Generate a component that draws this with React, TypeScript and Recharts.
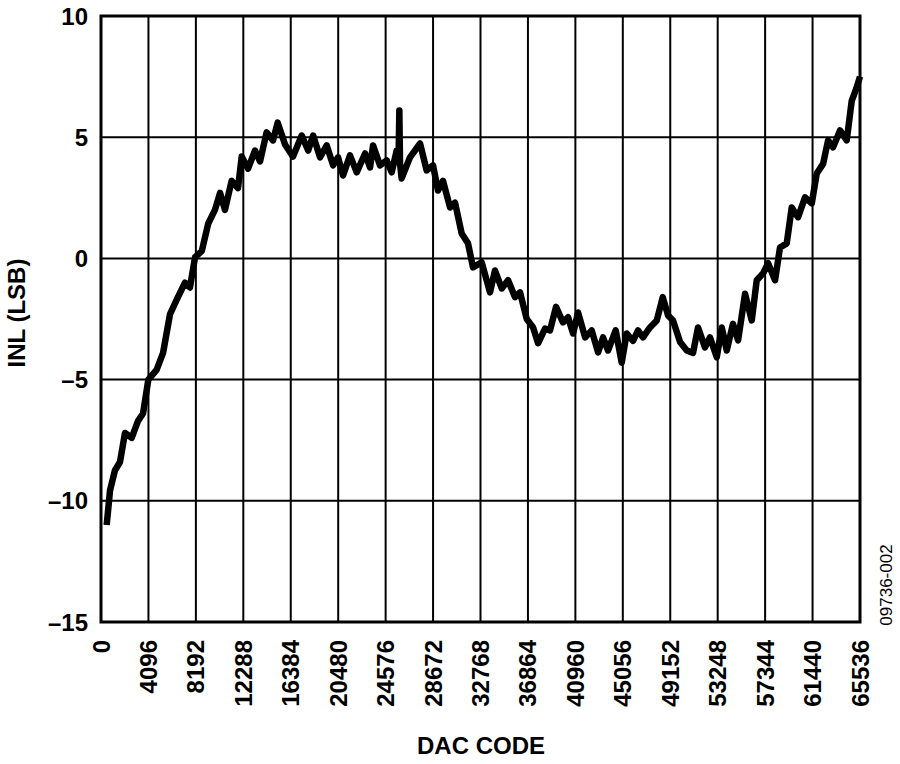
import { LineChart, Line, XAxis, YAxis, CartesianGrid, ReferenceArea } from 'recharts';

// DAC code vs INL
const dacCodes = [
  490, 780, 1200, 1640, 2070, 2650, 3200, 3630, 4090, 4800, 5360, 5960, 6540, 7250, 7680,
  8120, 8700, 9260, 9840, 10280, 10700, 11280, 11830, 12150, 12700, 13300, 13730, 14300,
  14850, 15260, 15890, 16580, 17330, 17890, 18320, 18910, 19490, 20040, 20470, 20900,
  21500, 22080, 22800, 23230, 23490, 24090, 24670, 25100, 25530, 25700, 25760, 25820,
  25960, 26680, 27550, 28120, 28670, 29100, 29530, 30140, 30570, 31140, 31690, 32120,
  32870, 33590, 34020, 34600, 35150, 35750, 36180, 36760, 37310, 37740, 38340, 38770,
  39290, 39890, 40330, 40760, 41190, 41800, 42370, 42920, 43350, 43780, 44440, 44960,
  45390, 45940, 46370, 46800, 47400, 47990, 48500, 48960, 49390, 50000, 50580, 51120,
  51550, 52150, 52580, 53170, 53600, 54030, 54570, 55010, 55610, 56190, 56620, 57160,
  57600, 58200, 58630, 59210, 59640, 60190, 60790, 61370, 61800, 62350, 62780, 63210,
  63810, 64390, 64820, 65250, 65536,
];

const inlValues = [
  -11.0, -9.57, -8.75, -8.4, -7.2, -7.4, -6.7, -6.4, -5.0, -4.6, -3.9, -2.3, -1.7, -1.0, -1.2,
  0.05, 0.3, 1.44, 2.0, 2.7, 2.0, 3.2, 2.9, 4.2, 3.7, 4.45, 4.0, 5.2,
  4.87, 5.6, 4.7, 4.2, 5.07, 4.45, 5.07, 4.17, 4.66, 3.84, 4.17, 3.42,
  4.25, 3.55, 4.33, 3.75, 4.66, 3.84, 4.04, 3.55, 4.45, 4.3, 6.1, 3.9,
  3.3, 4.17, 4.74, 3.63, 3.84, 2.8, 3.2, 2.1, 2.3, 1.03, 0.62, -0.37,
  -0.16, -1.4, -0.5, -1.24, -0.9, -1.6, -1.4, -2.5, -2.85, -3.5, -2.9, -2.97,
  -2.0, -2.64, -2.43, -3.1, -2.23, -3.26, -2.97, -3.88, -3.26, -3.8, -2.97, -4.3,
  -3.1, -3.4, -2.97, -3.26, -2.85, -2.56, -1.6, -2.35, -2.56, -3.45, -3.8, -3.9,
  -2.85, -3.67, -3.26, -4.08, -2.85, -3.8, -2.7, -3.38, -1.46, -2.56, -0.9, -0.62,
  -0.2, -0.9, 0.45, 0.62, 2.1, 1.7, 2.52, 2.27, 3.5, 3.9, 4.87, 4.58,
  5.28, 4.87, 6.5, 7.05, 7.5,
];

const xTicks = [
  0, 4096, 8192, 12288, 16384, 20480, 24576, 28672, 32768, 36864, 40960, 45056, 49152,
  53248, 57344, 61440, 65536,
];
const yTicks = [-15, -10, -5, 0, 5, 10];

const data = dacCodes.map((code, i) => ({ code, inl: inlValues[i] }));

const font = '"Liberation Sans", Arial, sans-serif';

const fmtY = (v: number) => (v < 0 ? '\u2013' + Math.abs(v) : String(v));

const XTick = (props: any) => {
  const { x, payload } = props;
  const y = 640;
  return (
    <text
      x={x}
      y={y}
      transform={`rotate(-90, ${x}, ${y})`}
      textAnchor="end"
      dominantBaseline="central"
      fontFamily={font}
      fontWeight="bold"
      fontSize={24}
      fill="#000"
    >
      {payload.value}
    </text>
  );
};

const YTick = (props: any) => {
  const { y, payload } = props;
  return (
    <text
      x={88}
      y={y}
      textAnchor="end"
      dominantBaseline="central"
      fontFamily={font}
      fontWeight="bold"
      fontSize={24}
      fill="#000"
    >
      {fmtY(payload.value)}
    </text>
  );
};

const App = () => {
  return (
    <div style={{ position: 'absolute', left: 0, top: 0, width: 900, height: 764, background: '#fff' }}>
      <LineChart width={900} height={764} data={data} margin={{ top: 16, right: 40, left: 0, bottom: 0 }}>
        <CartesianGrid stroke="#000" strokeWidth={2} />
        <XAxis
          dataKey="code"
          type="number"
          domain={[0, 65536]}
          ticks={xTicks}
          interval={0}
          height={142}
          tick={<XTick />}
          tickLine={false}
          axisLine={false}
        />
        <YAxis
          type="number"
          domain={[-15, 10]}
          ticks={yTicks}
          interval={0}
          width={101}
          tick={<YTick />}
          tickLine={false}
          axisLine={false}
        />
        <ReferenceArea x1={0} x2={65536} y1={-15} y2={10} fill="none" stroke="#000" strokeWidth={3} ifOverflow="visible" />
        <Line
          type="linear"
          dataKey="inl"
          stroke="#000"
          strokeWidth={6.5}
          strokeLinejoin="round"
          dot={false}
          isAnimationActive={false}
        />
        <text x={16} y={313} transform="rotate(-90, 16, 313)" textAnchor="middle" dominantBaseline="central" fontFamily={font} fontWeight="bold" fontSize={24} fill="#000">
          INL (LSB)
        </text>
        <text x={481} y={745} textAnchor="middle" dominantBaseline="central" fontFamily={font} fontWeight="bold" fontSize={24} fill="#000">
          DAC CODE
        </text>
        <text x={886} y={585} transform="rotate(-90, 886, 585)" textAnchor="middle" dominantBaseline="central" fontFamily={font} fontSize={17} fill="#000">
          09736-002
        </text>
      </LineChart>
    </div>
  );
};

export default App;
